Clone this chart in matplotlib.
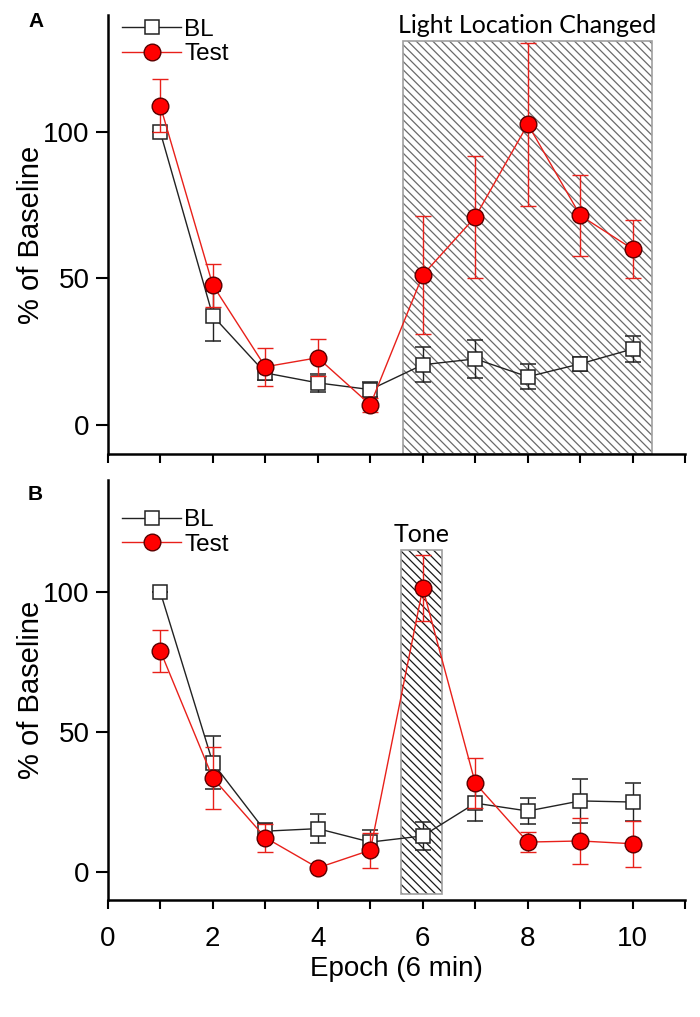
import numpy as np
import matplotlib
matplotlib.use('Agg')
import matplotlib.pyplot as plt
from matplotlib.patches import Rectangle
from matplotlib.lines import Line2D

plt.rcParams['font.family'] = ['Liberation Sans', 'DejaVu Sans']
plt.rcParams['hatch.linewidth'] = 0.9

# data
epoch = np.arange(1, 11)

bl_a = [100, 37.2, 17.7, 14.3, 12.0, 20.5, 22.5, 16.4, 20.8, 25.9]
bl_a_err = [0, 8.5, 2.5, 3.0, 2.5, 6.0, 6.5, 4.3, 2.5, 4.3]
test_a = [109, 47.7, 19.8, 22.9, 6.8, 51.2, 71.0, 102.7, 71.5, 60.0]
test_a_err = [9, 7.3, 6.5, 6.4, 2.5, 20.2, 20.7, 27.8, 13.8, 9.8]

bl_b = [100, 39.0, 14.6, 15.5, 10.7, 12.9, 24.6, 21.8, 25.4, 25.0]
bl_b_err = [0, 9.5, 3.0, 5.3, 4.2, 5.0, 6.4, 4.6, 7.8, 6.8]
test_b = [79, 33.6, 12.3, 1.5, 7.8, 101.4, 31.7, 10.7, 11.1, 10.1]
test_b_err = [7.5, 11.1, 5.0, 0, 6.3, 11.8, 8.9, 3.5, 8.2, 8.2]

# shaded periods: (x start, x end, y top)
light_box = (5.62, 10.37, 131)
tone_box = (5.59, 6.37, 115)

fig = plt.figure(figsize=(7, 10.17), dpi=100)
axA = fig.add_axes([0.154, 0.5536, 0.825, 0.4316])
axB = fig.add_axes([0.154, 0.115, 0.825, 0.413])

bl_style = dict(color='#222222', lw=1, marker='s', ms=10, mfc='white', mec='#222222', mew=1.1)
test_style = dict(color='#e8201a', lw=1, marker='o', ms=12, mfc='#ff0000', mec='#5a0000', mew=1)


def draw_panel(ax, bl, bl_err, test, test_err, box, hatch_col, box_bottom):
    x0, x1, ytop = box
    ax.add_patch(Rectangle((x0, box_bottom), x1 - x0, ytop - box_bottom, fill=False,
                           hatch='\\\\\\\\', edgecolor=hatch_col, linewidth=0, zorder=1))
    ax.add_patch(Rectangle((x0, box_bottom), x1 - x0, ytop - box_bottom, fill=False,
                           edgecolor='#a0a0a0', linewidth=1.2, zorder=1.5))
    ax.errorbar(epoch, bl, yerr=bl_err, capsize=5.5, capthick=1, elinewidth=1,
                zorder=3, **bl_style)
    ax.errorbar(epoch, test, yerr=test_err, capsize=5.5, capthick=1, elinewidth=1,
                ecolor='#e8201a', zorder=4, **test_style)
    ax.set_xlim(0, 11)
    ax.set_ylim(-10, 140)
    ax.set_yticks([0, 50, 100])
    ax.set_xticks(range(0, 12))
    for s in ['top', 'right']:
        ax.spines[s].set_visible(False)
    for s in ['left', 'bottom']:
        ax.spines[s].set_linewidth(1.8)
    ax.tick_params(axis='y', direction='out', length=9, width=1.5, labelsize=20, pad=4)
    ax.tick_params(axis='x', direction='out', length=6.5, width=1.5, labelsize=20, pad=12)
    ax.set_ylabel('% of Baseline', fontsize=21, labelpad=-1)
    handles = [Line2D([], [], **bl_style), Line2D([], [], **test_style)]
    return handles


hA = draw_panel(axA, bl_a, bl_a_err, test_a, test_a_err, light_box, '#6a6a6a', -10)
hB = draw_panel(axB, bl_b, bl_b_err, test_b, test_b_err, tone_box, '#1a1a1a', -8)

axA.set_xticklabels([])
axB.set_xticklabels([str(i) if i % 2 == 0 else '' for i in range(0, 12)])
axB.set_xlabel('Epoch (6 min)', fontsize=20, labelpad=3)

axA.legend(hA, ['BL', 'Test'], loc='upper left', bbox_to_anchor=(0.0, 1.025), frameon=False,
           fontsize=17.5, handlelength=2.4, handletextpad=0.15, labelspacing=0.1, borderaxespad=0.2)
axB.legend(hB, ['BL', 'Test'], loc='upper left', bbox_to_anchor=(0.0, 0.965), frameon=False,
           fontsize=17.5, handlelength=2.4, handletextpad=0.15, labelspacing=0.1, borderaxespad=0.2)

axA.text((light_box[0] + light_box[1]) / 2, light_box[2] + 1.5, 'Light Location Changed',
         ha='center', va='bottom', fontsize=18, family=['Lato', 'DejaVu Sans'])
axB.text((tone_box[0] + tone_box[1]) / 2, tone_box[2] + 1.5, 'Tone',
         ha='center', va='bottom', fontsize=18, family=['Lato', 'DejaVu Sans'])

fig.text(0.04, 0.973, 'A', fontsize=15, fontweight='bold')
fig.text(0.04, 0.508, 'B', fontsize=15, fontweight='bold')

fig.savefig('out.png', dpi=100)
